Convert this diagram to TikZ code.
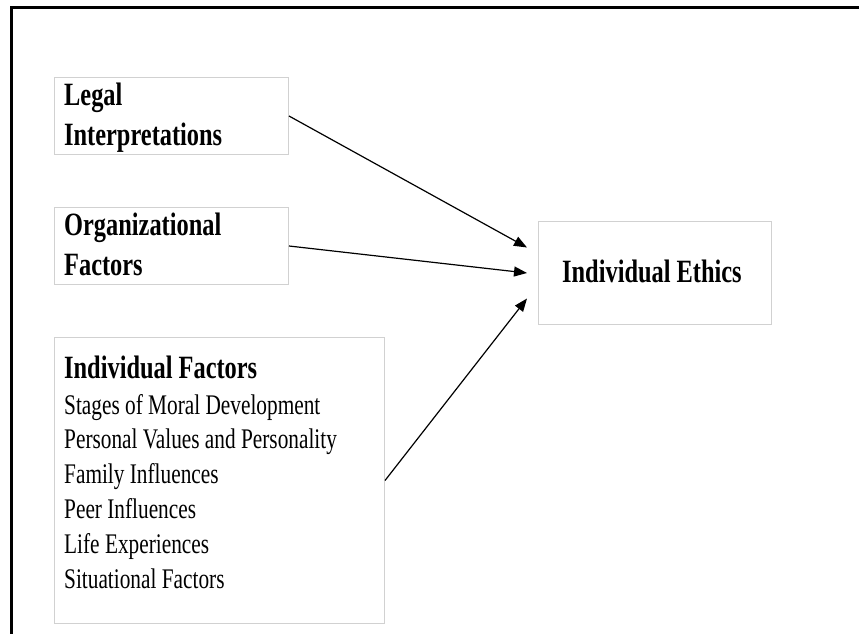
\documentclass[tikz,border=0pt]{standalone}
\usepackage{fontspec}
\setmainfont{Liberation Serif}[FakeStretch=0.75]
\usetikzlibrary{arrows.meta,calc}
\begin{document}
\begin{tikzpicture}[x=1pt,y=-1pt,
  box/.style={draw=black!18, line width=1pt, anchor=north west, inner sep=0pt},
  boldtxt/.style={font=\fontsize{32.5}{40}\selectfont\bfseries, anchor=base west, inner sep=0pt},
  regtxt/.style={font=\fontsize{28.4}{34.8}\selectfont, anchor=base west, inner sep=0pt},
  conn/.style={line width=1.2pt, -{Triangle[length=13pt,width=10pt]}},
  framelne/.style={line width=2.6pt}]
\useasboundingbox (0,0) rectangle (859,634);
% outer frame
\draw[framelne] (11.5,634) -- (11.5,7.5) -- (859,7.5);
% boxes
\node[box, minimum width=234pt, minimum height=77pt] (legal) at (54,77) {};
\node[box, minimum width=234pt, minimum height=77pt] (org) at (54,207) {};
\node[box, minimum width=330pt, minimum height=286pt] (indiv) at (54,337) {};
\node[box, minimum width=233pt, minimum height=103pt] (ethics) at (538,221) {};
% texts
\node[boldtxt] (t1) at (64,105) {Legal};
\node[boldtxt] (t2) at (64,145) {Interpretations};
\node[boldtxt] (t3) at (64,235) {Organizational};
\node[boldtxt] (t4) at (64,275) {Factors};
\node[boldtxt] (t5) at (64,378) {Individual Factors};
\node[regtxt] (t6) at (64,414) {Stages of Moral Development};
\node[regtxt] (t7) at (64,448) {Personal Values and Personality};
\node[regtxt] (t8) at (64,483) {Family Influences};
\node[regtxt] (t9) at (64,518) {Peer Influences};
\node[regtxt] (t10) at (64,553) {Life Experiences};
\node[regtxt] (t11) at (64,588) {Situational Factors};
\node[boldtxt] (t12) at (562,282) {Individual Ethics};
% connector ends
\coordinate (e1) at ($(ethics.west)+(-11,-25.5)$);
\coordinate (e2) at ($(ethics.west)+(-11,0)$);
\coordinate (e3) at ($(ethics.west)+(-11,25.5)$);
\draw[conn] (legal.east) -- (e1);
\draw[conn] (org.east) -- (e2);
\draw[conn] (indiv.east) -- (e3);
\end{tikzpicture}
\end{document}
